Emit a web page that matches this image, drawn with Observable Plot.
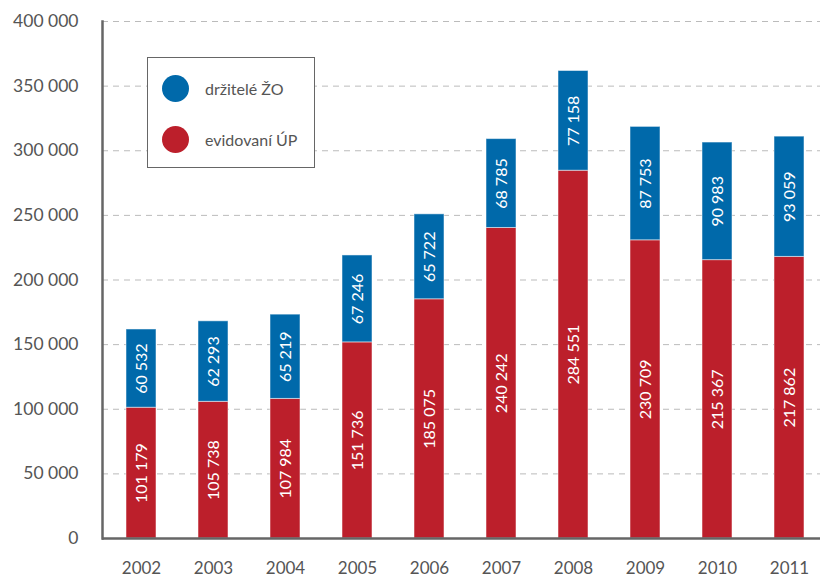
<!DOCTYPE html>
<html>
<head>
<meta charset="utf-8">
<script src="https://cdn.jsdelivr.net/npm/d3@7"></script>
<script src="https://cdn.jsdelivr.net/npm/@observablehq/plot@0.6"></script>
<style>
  body { margin: 0; background: #fff; }
  #wrap { position: relative; width: 820px; height: 578px; font-family: Lato, "Open Sans", sans-serif; }
  #legend { position: absolute; left: 147px; top: 57px; width: 168px; height: 111px; border: 1.5px solid #666; background: #fff; box-sizing: border-box; }
  .li { position: absolute; left: 14px; display: flex; align-items: center; font-size: 16px; color: #555; }
  .dot { width: 27px; height: 27px; border-radius: 50%; margin-right: 16px; }
</style>
</head>
<body>
<div id="wrap"></div>
<script>
const years = ["2002","2003","2004","2005","2006","2007","2008","2009","2010","2011"];
const evidovani = [101179, 105738, 107984, 151736, 185075, 240242, 284551, 230709, 215367, 217862];
const drzitele = [60532, 62293, 65219, 67246, 65722, 68785, 77158, 87753, 90983, 93059];
const seriesNames = ["evidovaní ÚP", "držitelé ŽO"];
const colors = ["#BC1F2B", "#0069AA"];
const yTicks = [0, 50000, 100000, 150000, 200000, 250000, 300000, 350000, 400000];

const data = [];
years.forEach((yr, i) => data.push({year: yr, series: seriesNames[0], value: evidovani[i]}));
years.forEach((yr, i) => data.push({year: yr, series: seriesNames[1], value: drzitele[i]}));

const loc = d3.formatLocale({decimal: ",", thousands: "\u00a0", grouping: [3], currency: ["", ""]});
const fmt = loc.format(",d");

const chart = Plot.plot({
  width: 820,
  height: 578,
  marginTop: 21,
  marginBottom: 40,
  marginLeft: 102,
  marginRight: 0,
  style: {fontFamily: "Lato, 'Open Sans', sans-serif", color: "#555", fontSize: "17px", background: "#fff"},
  x: {domain: years, range: [102, 828], paddingInner: 0.587, paddingOuter: 0.289, label: null},
  y: {domain: [0, 400000], label: null},
  color: {domain: seriesNames, range: colors},
  marks: [
    Plot.gridY(yTicks, {stroke: "#bbb", strokeOpacity: 1, strokeDasharray: "6,5"}),
    Plot.barY(data, {x: "year", y: "value", z: "series", fill: "series", stroke: "#fff", strokeOpacity: 0.5, strokeWidth: 1, order: seriesNames}),
    Plot.text(data, Plot.stackY({x: "year", y: "value", z: "series", order: seriesNames, text: d => fmt(d.value), rotate: -90, fill: "white", fontSize: 16, textAnchor: "middle"})),
    Plot.axisY({ticks: yTicks, tickSize: 0, tickPadding: 24, tickFormat: fmt, fontSize: 17.5, fill: "#555"}),
    Plot.axisX({tickSize: 0, tickPadding: 23, fontSize: 17, fill: "#555"}),
    Plot.ruleY([0], {stroke: "#666", strokeWidth: 2.5}),
    Plot.frame({anchor: "left", stroke: "#666", strokeWidth: 2.5})
  ]
});

const wrap = document.getElementById("wrap");
wrap.appendChild(chart);
const legend = document.createElement("div");
legend.id = "legend";
const items = [[seriesNames[1], colors[1], 17], [seriesNames[0], colors[0], 68]];
items.forEach(([name, c, top]) => {
  const li = document.createElement("div");
  li.className = "li";
  li.style.top = top + "px";
  const dot = document.createElement("div");
  dot.className = "dot";
  dot.style.background = c;
  const t = document.createElement("span");
  t.textContent = name;
  li.appendChild(dot);
  li.appendChild(t);
  legend.appendChild(li);
});
wrap.appendChild(legend);
</script>
</body>
</html>
